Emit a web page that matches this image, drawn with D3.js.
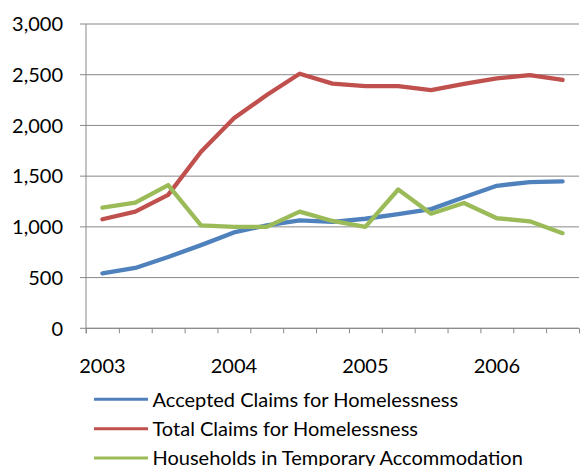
<!DOCTYPE html>
<html><head><meta charset="utf-8">
<script src="https://cdn.jsdelivr.net/npm/d3@7"></script>
<style>html,body{margin:0;padding:0;background:#fff;overflow:hidden;}svg{display:block;}</style>
</head><body>
<script>
const categories = ["2003 Q1","2003 Q2","2003 Q3","2003 Q4","2004 Q1","2004 Q2","2004 Q3","2004 Q4","2005 Q1","2005 Q2","2005 Q3","2005 Q4","2006 Q1","2006 Q2","2006 Q3"];
const tickLabels = ["2003","2004","2005","2006"];
const yTicks = [0,500,1000,1500,2000,2500,3000];
const seriesNames = ["Accepted Claims for Homelessness","Total Claims for Homelessness","Households in Temporary Accommodation"];
const accepted = [542,595,703,820,945,1015,1065,1050,1080,1125,1175,1292,1405,1442,1448];
const total = [1075,1150,1315,1740,2070,2300,2510,2412,2388,2388,2348,2410,2465,2495,2448];
const temporary = [1190,1238,1412,1015,1000,1000,1150,1058,1000,1368,1130,1235,1085,1055,938];
const colors = ["#4F81BD","#C0504D","#9BBB59"];

(function () {
const W = 582, H = 466;
const pL = 86, pR = 579, pT = 24, pB = 328.3;
const font = "Lato, 'Liberation Sans', sans-serif";
const fs = 20;

const svg = d3.select("body").append("svg").attr("width", W).attr("height", H);

const x = d3.scaleLinear().domain([-0.5, categories.length - 0.5]).range([pL, pR]);
const y = d3.scaleLinear().domain([0, 3000]).range([pB, pT]);

// gridlines
svg.append("g").selectAll("line").data(yTicks).join("line")
  .attr("x1", pL - 6).attr("x2", pR)
  .attr("y1", d => y(d)).attr("y2", d => y(d))
  .attr("stroke", "#888").attr("stroke-width", 1);

// y axis line
svg.append("line").attr("x1", pL).attr("x2", pL).attr("y1", pT).attr("y2", pB + 5)
  .attr("stroke", "#888").attr("stroke-width", 1);

// y labels
svg.append("g").selectAll("text").data(yTicks).join("text")
  .attr("x", 63).attr("y", d => y(d)).attr("dy", "0.36em")
  .attr("text-anchor", "end").attr("font-family", font).attr("font-size", fs).attr("fill", "#000")
  .text(d => d3.format(",")(d));

// x axis ticks at category boundaries
const xAxis = d3.axisBottom(x)
  .tickValues(d3.range(-0.5, categories.length, 1))
  .tickSize(5).tickFormat("");
const gx = svg.append("g").attr("transform", `translate(0,${pB})`).call(xAxis);
gx.selectAll("line").attr("stroke", "#888");
gx.select(".domain").attr("stroke", "#888").attr("d", `M${pL},0H${pR}`);

// x labels
svg.append("g").selectAll("text").data(tickLabels).join("text")
  .attr("x", (d) => x(categories.indexOf(d + " Q1"))).attr("y", 372.5)
  .attr("text-anchor", "middle").attr("font-family", font).attr("font-size", fs).attr("fill", "#000")
  .text(d => d);

// lines
const line = d3.line().x((d, i) => x(i)).y(d => y(d));
[accepted, total, temporary].forEach((s, k) => {
  svg.append("path").datum(s).attr("d", line)
    .attr("fill", "none").attr("stroke", colors[k]).attr("stroke-width", 4.3)
    .attr("stroke-linejoin", "round").attr("stroke-linecap", "round");
});

// legend
const lg = svg.append("g").selectAll("g").data(seriesNames).join("g")
  .attr("transform", (d, i) => `translate(94,${399.3 + i * 29.35})`);
lg.append("line").attr("x1", 0).attr("x2", 54).attr("y1", 0).attr("y2", 0)
  .attr("stroke", (d, i) => colors[i]).attr("stroke-width", 3);
lg.append("text").attr("x", 58.5).attr("y", 0).attr("dy", "0.36em")
  .attr("font-family", font).attr("font-size", fs).attr("fill", "#000").text(d => d);
})();
</script>
</body></html>
